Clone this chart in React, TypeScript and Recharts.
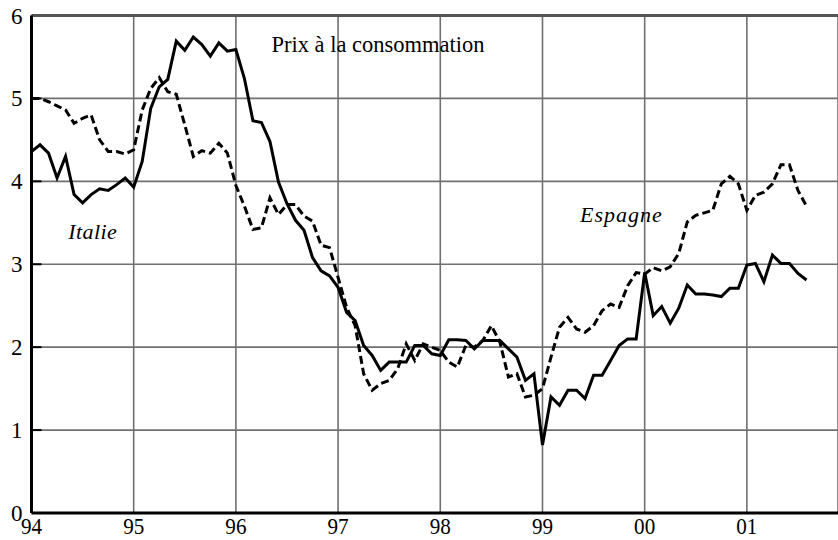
import React from 'react';
import { LineChart, Line, XAxis, YAxis, CartesianGrid, ReferenceLine } from 'recharts';

// Monthly year-on-year consumer price inflation, Jan 1994 .. Aug 2001
const italie = [
  4.36, 4.44, 4.34, 4.04, 4.30, 3.84, 3.74, 3.84, 3.91, 3.89, 3.96, 4.04,
  3.93, 4.24, 4.88, 5.14, 5.23, 5.69, 5.58, 5.74, 5.65, 5.51, 5.67, 5.57,
  5.59, 5.24, 4.73, 4.71, 4.48, 3.99, 3.73, 3.53, 3.41, 3.08, 2.92, 2.86,
  2.72, 2.42, 2.32, 2.02, 1.90, 1.72, 1.82, 1.82, 1.82, 2.02, 2.02, 1.92,
  1.90, 2.09, 2.09, 2.08, 1.98, 2.08, 2.08, 2.08, 1.98, 1.88, 1.60, 1.68,
  0.82, 1.40, 1.30, 1.48, 1.48, 1.38, 1.66, 1.66, 1.84, 2.02, 2.10, 2.10,
  2.90, 2.38, 2.49, 2.29, 2.47, 2.75, 2.64, 2.64, 2.63, 2.61, 2.71, 2.71,
  2.99, 3.01, 2.79, 3.11, 3.01, 3.01, 2.89, 2.81,
];

const espagne = [
  5.00, 5.00, 4.96, 4.91, 4.86, 4.70, 4.76, 4.80, 4.50, 4.36, 4.36, 4.33,
  4.38, 4.86, 5.12, 5.25, 5.08, 5.05, 4.68, 4.30, 4.37, 4.34, 4.46, 4.34,
  3.95, 3.70, 3.42, 3.44, 3.80, 3.60, 3.72, 3.72, 3.58, 3.52, 3.23, 3.20,
  2.84, 2.48, 2.26, 1.68, 1.48, 1.56, 1.60, 1.74, 2.04, 1.84, 2.04, 2.00,
  1.96, 1.82, 1.76, 2.02, 2.00, 2.08, 2.26, 2.06, 1.64, 1.68, 1.40, 1.42,
  1.50, 1.88, 2.24, 2.36, 2.22, 2.18, 2.26, 2.44, 2.52, 2.48, 2.74, 2.90,
  2.88, 2.96, 2.92, 2.97, 3.13, 3.51, 3.59, 3.62, 3.65, 3.97, 4.06, 3.97,
  3.65, 3.83, 3.87, 3.97, 4.20, 4.20, 3.89, 3.70,
];

const yearLabels = ['94', '95', '96', '97', '98', '99', '00', '01'];
const yValues = [0, 1, 2, 3, 4, 5, 6];
const titleText = 'Prix à la consommation';
const italieLabel = 'Italie';
const espagneLabel = 'Espagne';

const data = italie.map((v, i) => ({ m: i, italie: v, espagne: espagne[i] }));
const yearTicks = yearLabels.map((_, i) => i * 12);

const FONT = '"Liberation Serif", "Times New Roman", serif';

const XTick = (props: any) => {
  const { x, y, payload } = props;
  const idx = yearTicks.indexOf(payload.value);
  return (
    <text
      transform={`translate(${x},${y + 21}) scale(0.88,1)`}
      x={0}
      y={0}
      textAnchor="middle"
      fontFamily={FONT}
      fontSize={24}
      fill="#000"
    >
      {yearLabels[idx]}
    </text>
  );
};

const YTick = (props: any) => {
  const { x, y, payload } = props;
  return (
    <g>
      {payload.value > 0 && payload.value < 6 ? (
        <line x1={x} x2={x + 10} y1={y} y2={y} stroke="#000" strokeWidth={2} />
      ) : null}
      <text x={x - 9} y={y} dy="0.35em" textAnchor="end" fontFamily={FONT} fontSize={23} fill="#000">
        {payload.value}
      </text>
    </g>
  );
};

export default function App() {
  return (
    <div style={{ position: 'relative', width: 838, height: 540 }}>
      <style>{`body{margin:0}`}</style>
      <LineChart
        width={838}
        height={540}
        data={data}
        margin={{ top: 15.5, right: 0, bottom: 0, left: 0 }}
      >
        <CartesianGrid stroke="#707070" strokeWidth={1.6} />
        <ReferenceLine y={6} stroke="#555" strokeWidth={3} />
        <XAxis
          dataKey="m"
          type="number"
          domain={[0, 94.7]}
          ticks={yearTicks}
          allowDataOverflow
          interval={0}
          height={27}
          tickLine={false}
          tickSize={0}
          tickMargin={0}
          axisLine={{ stroke: '#000', strokeWidth: 3 }}
          tick={<XTick />}
        />
        <YAxis
          type="number"
          domain={[0, 6]}
          ticks={yValues}
          interval={0}
          width={31.5}
          tickLine={false}
          tickSize={0}
          tickMargin={0}
          axisLine={{ stroke: '#000', strokeWidth: 3 }}
          tick={<YTick />}
        />
        <Line
          type="linear"
          dataKey="espagne"
          stroke="#000"
          strokeWidth={3}
          strokeDasharray="8 4"
          dot={false}
          isAnimationActive={false}
        />
        <Line
          type="linear"
          dataKey="italie"
          stroke="#000"
          strokeWidth={3}
          strokeLinejoin="miter"
          dot={false}
          isAnimationActive={false}
        />
      </LineChart>
      <svg
        width={838}
        height={540}
        style={{ position: 'absolute', left: 0, top: 0, pointerEvents: 'none' }}
      >
        <text x={378} y={52.3} textAnchor="middle" fontFamily={FONT} fontSize={22.5} fill="#000">
          {titleText}
        </text>
        <text x={68.3} y={239.3} fontFamily={FONT} fontStyle="italic" fontSize={22} letterSpacing={0.4} fill="#000">
          {italieLabel}
        </text>
        <text x={580} y={221.7} fontFamily={FONT} fontStyle="italic" fontSize={22} letterSpacing={1} fill="#000">
          {espagneLabel}
        </text>
      </svg>
    </div>
  );
}
